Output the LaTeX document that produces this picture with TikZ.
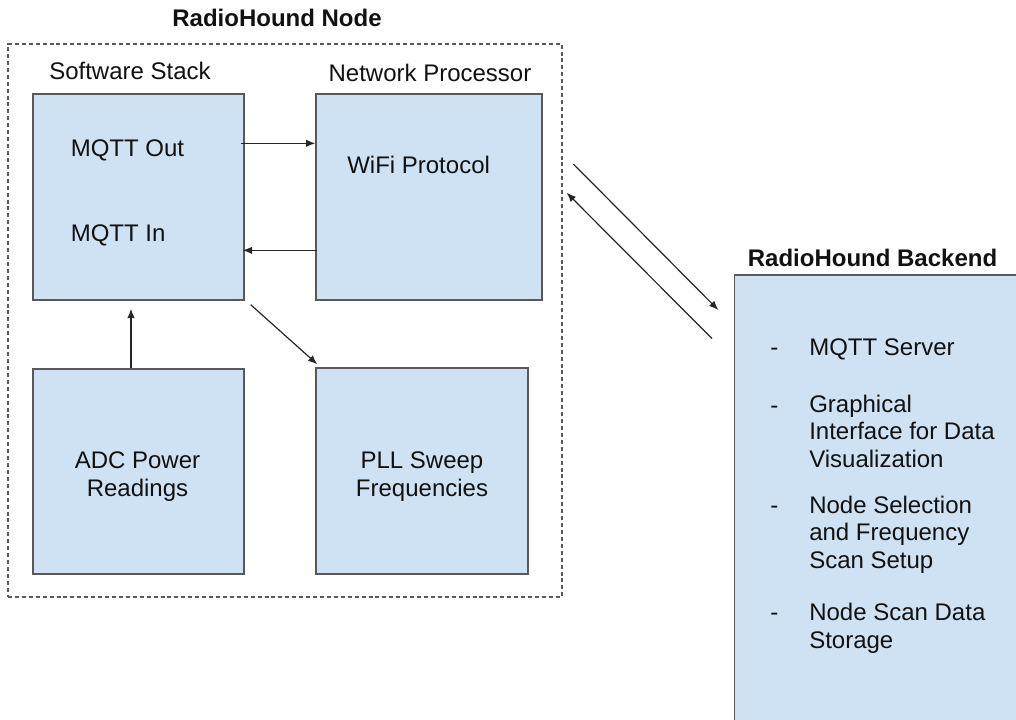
\documentclass[tikz,border=0pt]{standalone}
\usepackage{fontspec}
\setmainfont{Liberation Sans}
\usetikzlibrary{arrows.meta,calc}
\definecolor{boxfill}{HTML}{CFE2F3}
\definecolor{boxline}{HTML}{595959}
\definecolor{txt}{HTML}{111111}
\begin{document}
\begin{tikzpicture}[x=0.75pt,y=-0.75pt,
  box/.style={draw=boxline,fill=boxfill,line width=1pt,inner sep=0pt},
  frame/.style={draw=boxline,dash pattern=on 3pt off 2.2pt,line width=0.8pt,inner sep=0pt},
  lbl/.style={inner sep=0pt,text=txt,font=\fontsize{18}{20.5}\selectfont},
  ttl/.style={lbl,font=\fontsize{18}{20.5}\selectfont\bfseries},
  arr/.style={draw=black!85,line width=0.9pt,-{Latex[length=7pt,width=5.5pt]}}]
\useasboundingbox (0,0) rectangle (1016,719);
\clip (0,0) rectangle (1016,719);
% frame
\node[frame,minimum width=415.5pt,minimum height=414.75pt] (nodeframe) at (285,320.5) {};
% boxes
\node[box,minimum width=158.25pt,minimum height=154.5pt] (sw) at (138.5,197) {};
\node[box,minimum width=169.5pt,minimum height=154.5pt] (np) at (429,197) {};
\node[box,minimum width=158.25pt,minimum height=153.75pt] (adc) at (138.5,471.5) {};
\node[box,minimum width=159pt,minimum height=154.5pt] (pll) at (422,471) {};
\node[box,minimum width=240pt,minimum height=360pt] (be) at (894.7,515) {};
% titles
\node[ttl,anchor=base] (tnode) at (277,26.7) {RadioHound Node};
\node[ttl,anchor=base] (tbe) at (872.5,266.7) {RadioHound Backend};
\node[lbl,anchor=base] (tsw) at (130,79.5) {Software Stack};
\node[lbl,anchor=base] (tnp) at (430,81) {Network Processor};
% inner labels
\node[lbl,anchor=base west] (mout) at (70.5,156) {MQTT Out};
\node[lbl,anchor=base west] (min) at (70.5,241.7) {MQTT In};
\node[lbl,anchor=base west] (wifi) at (347,173.3) {WiFi Protocol};
\node[lbl,align=center,anchor=base] (adct) at (137.5,496) {ADC Power\\Readings};
\node[lbl,align=center,anchor=base] (pllt) at (422,496) {PLL Sweep\\Frequencies};
% backend list
\node[lbl,anchor=base west] (d1) at (770,355) {-};
\node[lbl,anchor=base west,align=left] (i1) at (809,355) {MQTT Server};
\node[lbl,anchor=base west] (d2) at (770,413) {-};
\node[lbl,anchor=base west,align=left] (i2) at (809,467) {Graphical\\Interface for Data\\Visualization};
\node[lbl,anchor=base west] (d3) at (770,513) {-};
\node[lbl,anchor=base west,align=left] (i3) at (809,568) {Node Selection\\and Frequency\\Scan Setup};
\node[lbl,anchor=base west] (d4) at (770,620) {-};
\node[lbl,anchor=base west,align=left] (i4) at (809,648) {Node Scan Data\\Storage};
% connectors
\draw[arr] ($(sw.north east)+(-4,50)$) -- ($(np.north west)+(0,50)$);
\draw[arr] ($(np.north west)+(2,157)$) -- ($(sw.north east)+(-2,157)$);
\draw[arr] ($(adc.north)+(-7.5,0)$) -- ($(sw.south)+(-7.5,8)$);
\draw[arr] ($(sw.south east)+(6,4)$) -- ($(pll.north west)+(2,-3)$);
\coordinate (a1s) at ($(np.east)+(30.7,-33)$);
\coordinate (a1e) at ($(be.north west)+(-15.7,35.7)$);
\coordinate (a2s) at ($(be.north west)+(-22,64.3)$);
\coordinate (a2e) at ($(np.east)+(24,-4.3)$);
\draw[arr] (a1s) -- (a1e);
\draw[arr] (a2s) -- (a2e);
\end{tikzpicture}
\end{document}
